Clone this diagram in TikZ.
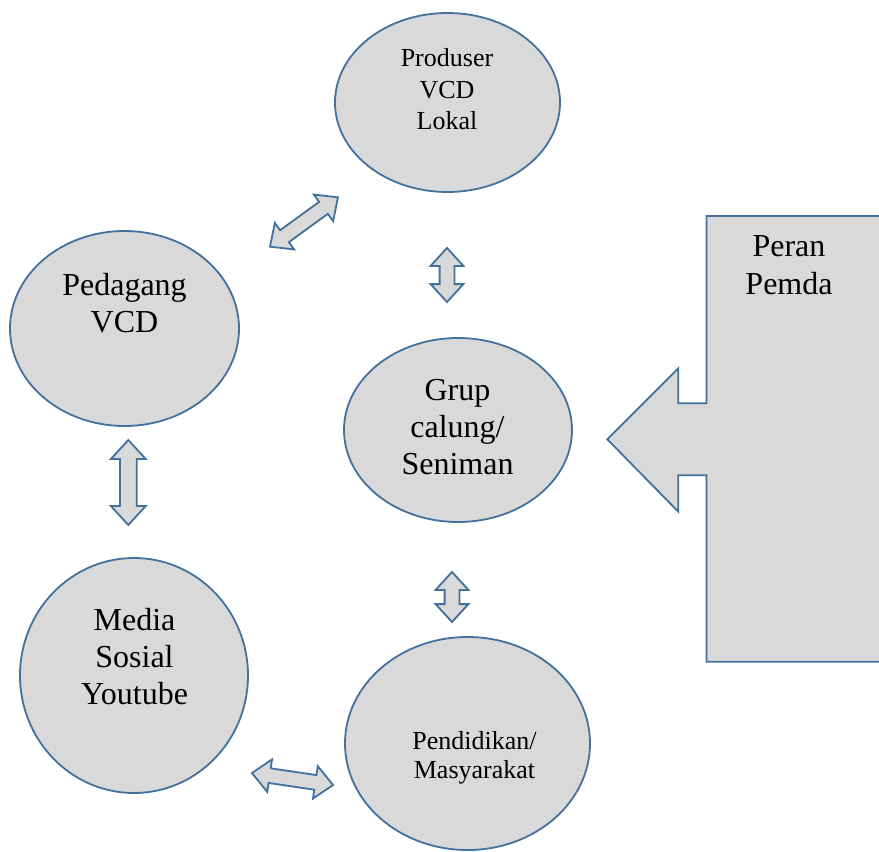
\documentclass[tikz,border=0pt]{standalone}
\usepackage{fontspec}
\setmainfont{Liberation Serif}
\usetikzlibrary{shapes.geometric,shapes.arrows}
\definecolor{calfill}{HTML}{D9D9D9}
\definecolor{calline}{HTML}{41719C}
\tikzset{
  oval/.style={ellipse, draw=calline, fill=calfill, line width=1.8pt, inner sep=0pt},
  txtbig/.style={align=center, inner sep=0pt, font=\fontsize{32}{37}\selectfont},
  txtsmall/.style={align=center, inner sep=0pt, font=\fontsize{26}{31.5}\selectfont},
  dbl/.style={double arrow, draw=calline, fill=calfill, line width=1.8pt, inner sep=0pt, inner ysep=6.5pt,
    double arrow head extend=9pt, double arrow tip angle=85},
}

\begin{document}
\begin{tikzpicture}[x=1pt,y=-1pt]
  \useasboundingbox (0,0) rectangle (879,852);
  % actors round the calung group
  \node[oval, minimum width=225pt, minimum height=179pt] (produser) at (447.5,102.5) {};
  \node[oval, minimum width=229pt, minimum height=195pt] (pedagang) at (124.5,328.5) {};
  \node[oval, minimum width=228pt, minimum height=184pt] (grup) at (458,430) {};
  \node[oval, minimum width=228pt, minimum height=235pt] (media) at (134,675.5) {};
  \node[oval, minimum width=245pt, minimum height=213pt] (pendidikan) at (467.5,743.5) {};
  \node[txtsmall] (produsertxt) at (447,89.6) {Produser\\VCD\\Lokal};
  \node[txtbig] (pedagangtxt) at (124.5,302.8) {Pedagang\\VCD};
  \node[txtbig] (gruptxt) at (457.5,427) {Grup\\calung/\\Seniman};
  \node[txtbig] (mediatxt) at (134.5,656.5) {Media\\Sosial\\Youtube};
  \node[txtsmall, font=\fontsize{26}{29}\selectfont] (pendidikantxt) at (474.5,757.4) {Pendidikan/\\Masyarakat};
  % two-way links
  \node[dbl, minimum height=84pt, rotate=36] (pp) at (304,222) {};
  \node[dbl, minimum height=54pt, rotate=90] (pg) at (447,275) {};
  \node[dbl, minimum height=50pt, rotate=90] (gp) at (452,597) {};
  \node[dbl, minimum height=85pt, rotate=90, inner ysep=7.5pt] (pm) at (128.3,482.5) {};
  \node[dbl, minimum height=82pt, rotate=-8.4] (mp) at (292.5,779) {};
  % Peran Pemda, cut off at the right edge
  \begin{scope}
    \clip (0,0) rectangle (879,852);
    \filldraw[draw=calline, fill=calfill, line width=1.8pt]
      (885,216) -- (706.5,216) -- (706.5,403.3) -- (678.3,403.3) -- (678.3,368.3) -- (607.3,439.3)
      -- (678.3,511.7) -- (678.3,475.3) -- (706.5,475.3) -- (706.5,661.7) -- (885,661.7) -- cycle;
  \end{scope}
  \node[txtbig, font=\fontsize{32}{38}\selectfont] (peran) at (789,265) {Peran\\Pemda};
\end{tikzpicture}
\end{document}
